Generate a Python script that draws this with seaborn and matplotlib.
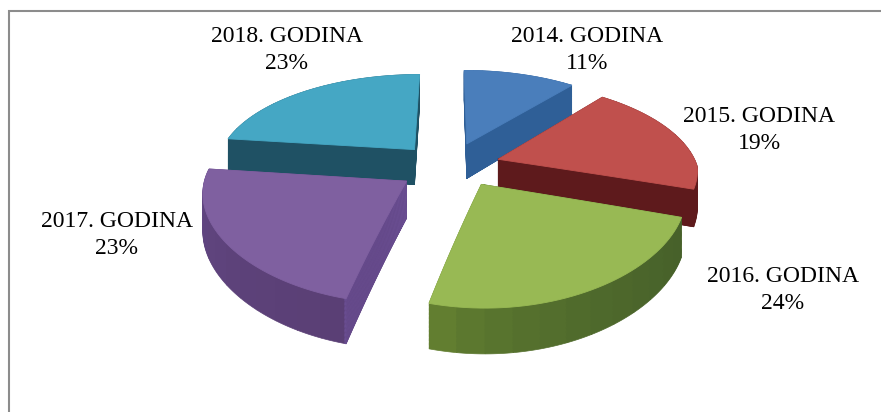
import numpy as np
import matplotlib
matplotlib.use('Agg')
import matplotlib.pyplot as plt
import seaborn as sns
from matplotlib.colors import to_rgb
from matplotlib.patches import Wedge
from matplotlib.path import Path
from matplotlib.transforms import Transform

# Data
years = ['2014. GODINA', '2015. GODINA', '2016. GODINA', '2017. GODINA', '2018. GODINA']
shares = [11, 19, 24, 23, 23]

# Colours
top_colors = ['#4a7ebb', '#c0504d', '#98b954', '#7f60a0', '#45a7c4']
wall_left = ['#2f5f97', '#5e1a1c', '#6d8a32', '#684d8e', '#1f5164']
wall_right = ['#2f5f97', '#5e1a1c', '#46602a', '#5a3f75', '#1f5164']
face_colors = ['#2f5f97', '#5e1a1c', '#46602a', '#6b4f94', '#1f5164']

# Layout (pixels)
label_xy = [(587, 50), (759, 130), (783, 290), (117, 235), (287, 50)]
draw_rank = [1, 3, 5, 4, 2]
explode = [0.26, 0.26, 0.30, 0.26, 0.24]
nudge_px = [(1, 0), (0, 0), (3, -7), (1, 1), (-4, 0)]
CX, CY = 449, 166
RX, RY = 199, 94
TILT = 0.18
TILT_X_FRONT = 0.10
DEPTH = 36
LAYERS = 36
SLICES = 12


class Perspective(Transform):
    """Tilts the flat unit pie into the page, z pushes it down."""
    input_dims = 2
    output_dims = 2

    def __init__(self, z=0.0):
        super().__init__()
        self.z = z

    def transform_non_affine(self, values):
        values = np.asarray(values, dtype=float)
        u, v = values[:, 0], values[:, 1]
        w = 1 + TILT * v
        wx = 1 + np.where(v > 0, TILT, TILT_X_FRONT) * v
        return np.column_stack([CX + RX * u / wx, CY - (RY * v - DEPTH * self.z) / w])

    def transform_path_non_affine(self, path):
        # sample the curves finely so the rim stays round after the warp
        t = np.linspace(0, 1, 24)
        pts = [curve(t) for curve, code in path.iter_bezier() if curve.degree > 0]
        return Path(self.transform_non_affine(np.vstack(pts)), closed=False)


def blend(c1, c2, t):
    c1, c2 = np.array(to_rgb(c1)), np.array(to_rgb(c2))
    return tuple(c1 + (c2 - c1) * t)


sns.set_theme(style='white')
plt.rcParams['font.family'] = ['Liberation Serif', 'DejaVu Serif']

fig = plt.figure(figsize=(8.81, 4.12), dpi=100)
ax = fig.add_axes([0, 0, 1, 1])

wedges, _ = ax.pie(shares, explode=explode, colors=sns.color_palette(top_colors),
                   startangle=90, counterclock=False, wedgeprops={'linewidth': 0})

for i, w in enumerate(wedges):
    dx, dy = nudge_px[i]
    w.set_center((w.center[0] + dx / RX, w.center[1] - dy / RY))
    w.set_transform(Perspective(0) + ax.transData)
    w.set_zorder(draw_rank[i] + 0.5)
    w.set_linewidth(0.6)
    w.set_edgecolor(top_colors[i])

    # only the cut faces turned towards the viewer get their own colour
    faces = []
    if np.sin(np.radians(w.theta1 - 90)) < -0.01:
        faces.append((w.theta1, w.theta1 + 0.4))
    if np.sin(np.radians(w.theta2 + 90)) < -0.01:
        faces.append((w.theta2 - 0.4, w.theta2))

    # side walls, stacked from the bottom up
    edges = np.linspace(w.theta1, w.theta2, SLICES + 1)
    for z in np.linspace(1, 0, LAYERS):
        tr = Perspective(z) + ax.transData
        for k in range(SLICES):
            col = blend(wall_left[i], wall_right[i], ((k + 0.5) / SLICES) ** 0.4)
            ax.add_patch(Wedge(w.center, w.r, edges[k], edges[k + 1], transform=tr, fc=col, ec=col,
                               lw=0.5, zorder=draw_rank[i]))
        for a, b in faces:
            ax.add_patch(Wedge(w.center, w.r, a, b, transform=tr, fc=face_colors[i], ec=face_colors[i],
                               lw=0.5, zorder=draw_rank[i]))

# chart area border, only top and left fall inside the picture
ax.plot([9, 9, 881], [412, 11, 11], color='#8c8c8c', lw=1.5, solid_joinstyle='miter')

for year, share, (x, y) in zip(years, shares, label_xy):
    ax.text(x, y, f'{year}\n{share}%', ha='center', va='center', fontsize=17, color='black',
            linespacing=1.35, zorder=10)

ax.set_aspect('auto')
ax.set_xlim(0, 881)
ax.set_ylim(412, 0)
ax.axis('off')

fig.savefig('out.png', dpi=100, facecolor='white')
